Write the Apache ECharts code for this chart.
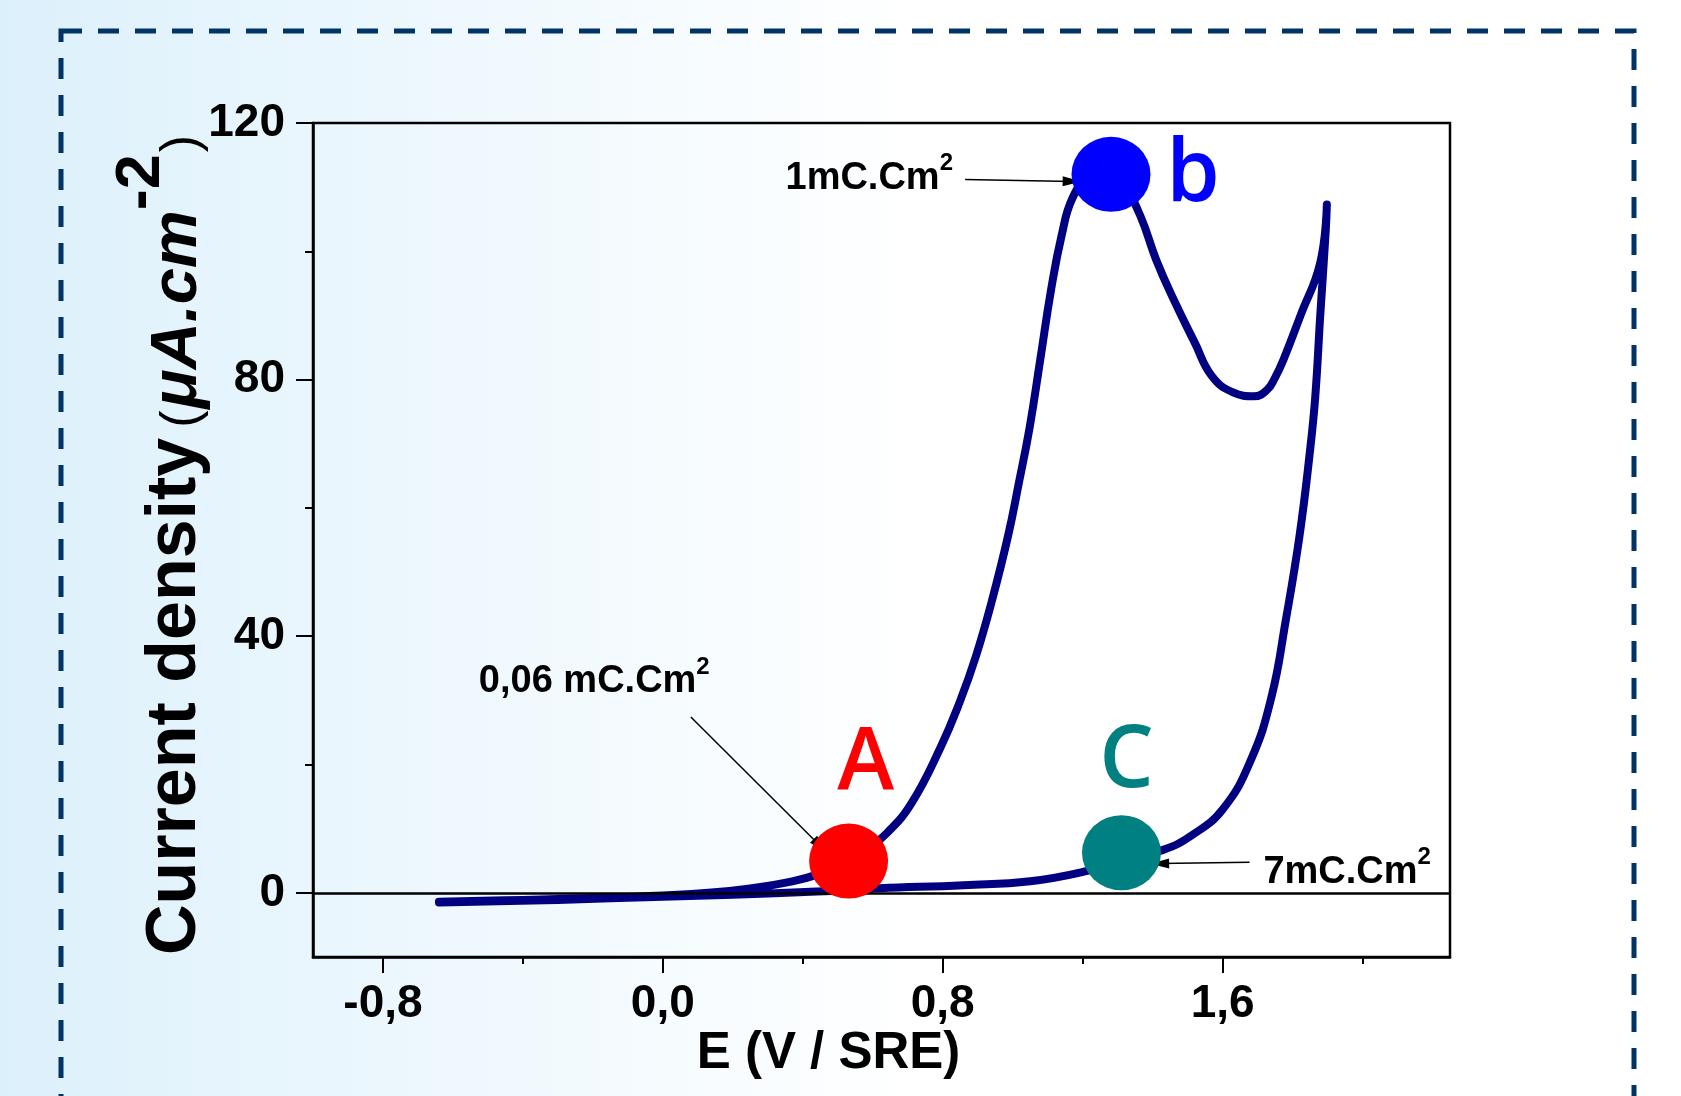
<!DOCTYPE html>
<html>
<head>
<meta charset="utf-8">
<style>
html,body{margin:0;padding:0;width:1681px;height:1096px;overflow:hidden;background:#fff}
#c{width:1681px;height:1096px}
</style>
<script src="https://cdn.jsdelivr.net/npm/echarts@6/dist/echarts.min.js"></script>
</head>
<body>
<div id="c"></div>
<script>
// ---------- data ----------
// forward anodic scan: [E (V/SRE), current density (µA/cm²)]
const forwardScan = [
  [-0.64,-1.4],[-0.40,-1.1],[-0.20,-0.8],[0.00,-0.4],[0.13,0.0],[0.25,0.7],[0.37,1.8],
  [0.45,3.0],[0.52,4.6],[0.58,6.6],[0.64,9.3],[0.71,13.9],[0.794,22.7],[0.849,29.8],
  [0.895,36.9],[0.941,45.6],[0.987,55.7],[1.018,64.0],[1.048,72.4],[1.079,83.2],[1.110,94.1],
  [1.140,102.5],[1.171,108.3],[1.22,111.8],[1.27,112.5],[1.32,110.0],[1.365,105.5],[1.41,98.7],
  [1.46,92.5],[1.52,85.8],[1.57,80.5],[1.63,78.0],[1.69,77.4],[1.727,78.4],[1.75,80.3],
  [1.774,83.1],[1.822,89.9],[1.879,98.2],[1.898,107.3]
];
// reverse scan back to the start potential
const reverseScan = [
  [1.895,103.4],[1.879,89.9],[1.865,77.4],[1.85,69.0],[1.82,55.7],[1.78,42.3],[1.74,30.6],
  [1.68,20.6],[1.60,13.0],[1.51,8.9],[1.43,6.7],[1.31,5.0],[1.22,3.5],[1.05,1.8],
  [0.86,1.2],[0.62,0.7],[0.44,0.2],[0.20,-0.3],[0.00,-0.6],[-0.30,-1.1],[-0.64,-1.5]
];
const markerNames  = ['A', 'b', 'C'];
const markerPoints = [[0.531, 4.96], [1.281, 112.0], [1.311, 6.25]];
const chargeNotes  = ['0,06 mC.Cm', '1mC.Cm', '7mC.Cm'];
const xMajorTicks  = [-0.8, 0.0, 0.8, 1.6];
const xTickLabels  = ['-0,8', '0,0', '0,8', '1,6'];
const xMinorTicks  = [-0.4, 0.4, 1.2, 2.0];
const yMajorTicks  = [0, 40, 80, 120];
const yTickLabels  = ['0', '40', '80', '120'];
const yMinorTicks  = [20, 60, 100];

// ---------- chart ----------
const FONT = "'Liberation Sans', Arial, Helvetica, sans-serif";
const LETTER_FONT = "'Open Sans', 'Noto Sans', 'DejaVu Sans', sans-serif";
const markerColors = ['#ff0000', '#0000ff', '#008080'];
const letterOffsets = [[17, -97], [82, 2], [5, -90]];

function pick(list, labels, v) {
  const i = list.findIndex(t => Math.abs(t - v) < 1e-9);
  return i < 0 ? '' : labels[i];
}

const chart = echarts.init(document.getElementById('c'), null, {renderer: 'canvas', width: 1681, height: 1096});

const noteRich = {
  t: {fontFamily: FONT, fontSize: 38, fontWeight: 'bold', color: '#000', opacity: 1, verticalAlign: 'bottom'},
  s: {fontFamily: FONT, fontSize: 24, fontWeight: 'bold', color: '#000', opacity: 1, verticalAlign: 'bottom', padding: [0, 0, 22, 0]}
};

const option = {
  animation: false,
  backgroundColor: {
    type: 'linear', x: 0, y: 0, x2: 1, y2: 0,
    colorStops: [
      {offset: 0, color: '#dcf0fb'},
      {offset: 0.15, color: '#e7f5fd'},
      {offset: 0.35, color: '#f3fafe'},
      {offset: 0.55, color: '#ffffff'},
      {offset: 1, color: '#ffffff'}
    ]
  },
  grid: {left: 313, right: 231, top: 123, bottom: 139, show: true, borderColor: '#000', borderWidth: 2.5, backgroundColor: 'transparent'},
  graphic: [{
    type: 'rect', z: 0, silent: true,
    shape: {x: 61, y: 31, width: 1573, height: 1300},
    style: {fill: 'none', stroke: '#003366', lineWidth: 5, lineDash: [21, 16]}
  }],
  xAxis: [{
    type: 'value', min: -1, max: 2.25, position: 'bottom',
    axisLine: {show: true, onZero: false, lineStyle: {color: '#000', width: 2.5}},
    axisTick: {show: true, customValues: xMajorTicks, length: 16, lineStyle: {color: '#000', width: 2}},
    axisLabel: {customValues: xMajorTicks, formatter: v => pick(xMajorTicks, xTickLabels, v),
      fontFamily: FONT, fontSize: 46, fontWeight: 'bold', color: '#000', margin: 24},
    splitLine: {show: false},
    name: 'E (V / SRE)', nameLocation: 'middle', nameGap: 71, nameMoveOverlap: false,
    nameTextStyle: {fontFamily: FONT, fontSize: 51, fontWeight: 'bold', color: '#000', padding: [0, 106, 0, 0]}
  }, {
    type: 'value', min: -1, max: 2.25, position: 'bottom',
    axisLine: {show: false, onZero: false},
    axisTick: {show: true, customValues: xMinorTicks, length: 7, lineStyle: {color: '#000', width: 2}},
    axisLabel: {show: false}, splitLine: {show: false}
  }],
  yAxis: [{
    type: 'value', min: -10, max: 120, position: 'left',
    axisLine: {show: true, onZero: false, lineStyle: {color: '#000', width: 2.5}},
    axisTick: {show: true, customValues: yMajorTicks, length: 17, lineStyle: {color: '#000', width: 2}},
    axisLabel: {customValues: yMajorTicks, formatter: v => pick(yMajorTicks, yTickLabels, v),
      fontFamily: FONT, fontSize: 46, fontWeight: 'bold', color: '#000', margin: 28},
    splitLine: {show: false},
    name: '{m|Current density}{o|(}{i|μA.cm}{s|-2}{c|)}',
    nameLocation: 'middle', nameRotate: 90, nameGap: 102, nameMoveOverlap: false,
    nameTextStyle: {
      color: '#000',
      padding: [0, 10, 0, 0],
      rich: {
        m: {fontFamily: FONT, fontSize: 70, fontWeight: 'bold', color: '#000', verticalAlign: 'bottom'},
        o: {fontFamily: FONT, fontSize: 52, fontWeight: 'normal', color: '#000', verticalAlign: 'bottom', padding: [0, 2, 2, 10]},
        c: {fontFamily: FONT, fontSize: 52, fontWeight: 'normal', color: '#000', verticalAlign: 'bottom', padding: [0, 0, 2, 2]},
        i: {fontFamily: FONT, fontSize: 65, fontWeight: 'bold', fontStyle: 'italic', color: '#000', verticalAlign: 'bottom'},
        s: {fontFamily: FONT, fontSize: 63, fontWeight: 'bold', color: '#000', verticalAlign: 'bottom', padding: [0, 0, 38, 0]}
      }
    }
  }, {
    type: 'value', min: -10, max: 120, position: 'left',
    axisLine: {show: false, onZero: false},
    axisTick: {show: true, customValues: yMinorTicks, length: 8, lineStyle: {color: '#000', width: 2}},
    axisLabel: {show: false}, splitLine: {show: false}
  }],
  series: [
    {
      name: 'zero', type: 'line', data: [], z: 1, silent: true,
      markLine: {silent: true, symbol: 'none', label: {show: false},
        lineStyle: {color: '#000', width: 2.5, type: 'solid'}, data: [{yAxis: 0}]}
    },
    {
      name: 'CV', type: 'line', z: 3, silent: true,
      data: forwardScan.concat(reverseScan),
      showSymbol: false, smooth: 0.45,
      lineStyle: {color: '#000080', width: 8, cap: 'round', join: 'round'}
    },
    {
      name: 'markers', type: 'scatter', z: 5, silent: true,
      symbol: 'circle', symbolSize: [79, 75],
      data: markerPoints.map((p, i) => ({
        value: p, name: markerNames[i],
        itemStyle: {color: markerColors[i], opacity: 1},
        label: {color: markerColors[i], offset: letterOffsets[i]}
      })),
      label: {show: true, position: 'inside', formatter: '{b}', fontFamily: LETTER_FONT, fontSize: 86, fontWeight: 600,
        align: 'center', verticalAlign: 'middle', textBorderWidth: 0}
    },
    {
      name: 'notes', type: 'scatter', z: 6, silent: true,
      symbol: 'circle', symbolSize: 1, itemStyle: {color: '#000', opacity: 0},
      data: [
        {value: [-0.196, 33.5], name: chargeNotes[0]},
        {value: [0.590, 112.0], name: chargeNotes[1]},
        {value: [1.956, 3.87], name: chargeNotes[2]}
      ],
      label: {show: true, position: 'inside', align: 'center', verticalAlign: 'middle', color: '#000', opacity: 1,
        textBorderWidth: 0, formatter: p => '{t|' + p.name + '}{s|2}', rich: noteRich},
      markLine: {
        silent: true, symbol: ['none', 'triangle'], symbolSize: 16,
        label: {show: false},
        lineStyle: {color: '#000', width: 1.5, type: 'solid', opacity: 1},
        itemStyle: {color: '#000'},
        data: [
          [{coord: [0.080, 27.4]}, {coord: [0.450, 7.3], symbolSize: [10, 19]}],
          [{coord: [0.864, 111.2]}, {coord: [1.170, 110.9], symbolSize: [10, 19]}],
          [{coord: [1.677, 4.77]}, {coord: [1.420, 4.57], symbolSize: [10, 19]}]
        ]
      }
    }
  ]
};
chart.setOption(option);
</script>
</body>
</html>
